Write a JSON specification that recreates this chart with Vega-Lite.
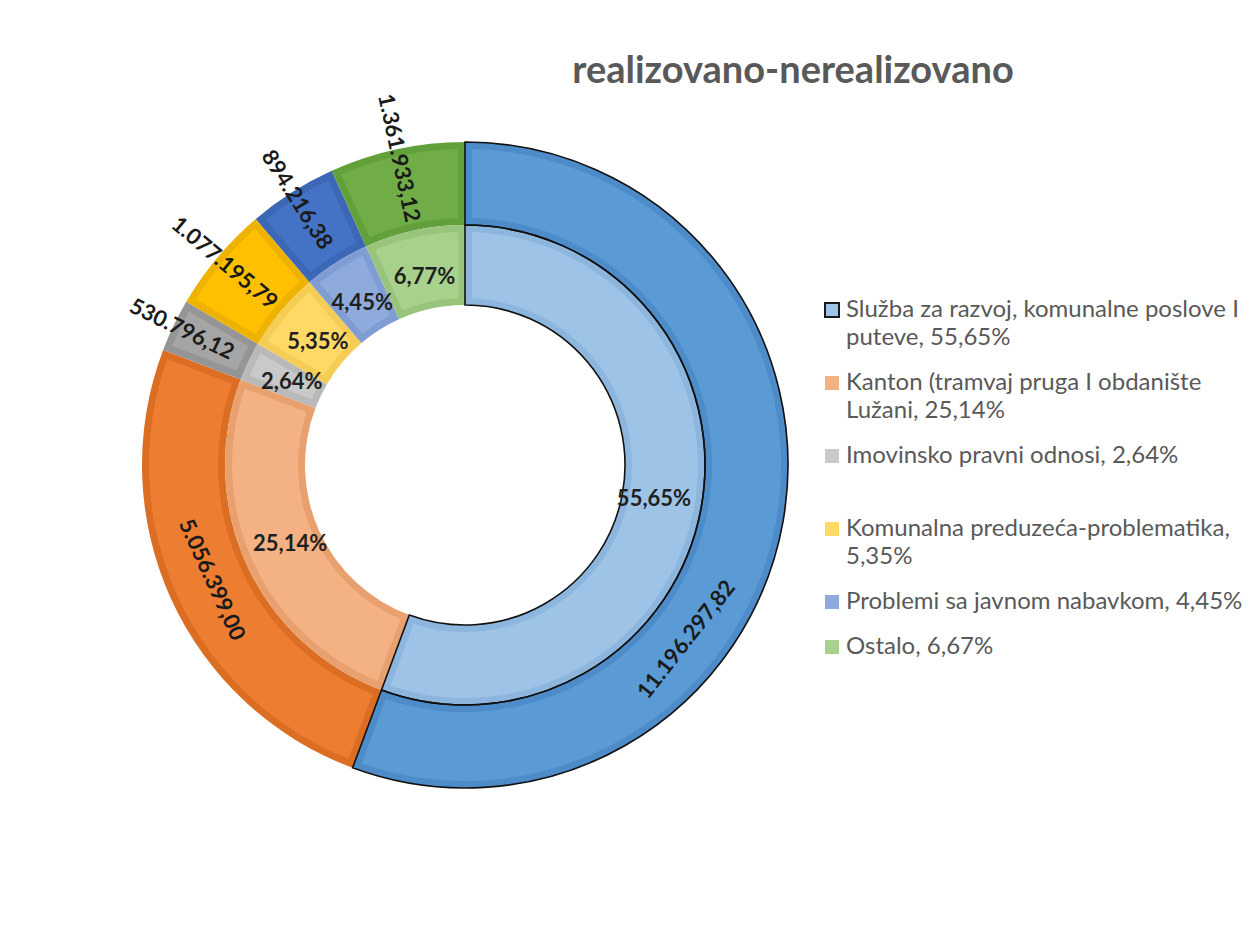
{
  "$schema": "https://vega.github.io/schema/vega-lite/v6.json",
  "autosize": {"type": "none"},
  "padding": {"left": 30, "top": 30, "right": 360, "bottom": 26},
  "width": 870,
  "height": 870,
  "background": "white",
  "config": {"view": {"stroke": null}},
  "title": {
    "text": "realizovano-nerealizovano",
    "font": "Lato",
    "fontSize": 38,
    "fontWeight": "bold",
    "color": "#595959",
    "anchor": "middle",
    "frame": "group",
    "baseline": "alphabetic",
    "offset": 0,
    "dx": 328,
    "dy": 91
  },
  "data": {
    "values": [
      {"rank": 1, "cat": "Služba", "legend": "Služba za razvoj, komunalne poslove I|puteve, 55,65%", "value": 11196297.82, "valueLabel": "11.196.297,82", "pctLabel": "55,65%"},
      {"rank": 2, "cat": "Kanton", "legend": "Kanton (tramvaj pruga I obdanište|Lužani, 25,14%", "value": 5056399.00, "valueLabel": "5.056.399,00", "pctLabel": "25,14%"},
      {"rank": 3, "cat": "Imovinsko", "legend": "Imovinsko pravni odnosi, 2,64%|", "value": 530796.12, "valueLabel": "530.796,12", "pctLabel": "2,64%"},
      {"rank": 4, "cat": "Komunalna", "legend": "Komunalna preduzeća-problematika,|5,35%", "value": 1077195.79, "valueLabel": "1.077.195,79", "pctLabel": "5,35%"},
      {"rank": 5, "cat": "Problemi", "legend": "Problemi sa javnom nabavkom, 4,45%", "value": 894216.38, "valueLabel": "894.216,38", "pctLabel": "4,45%"},
      {"rank": 6, "cat": "Ostalo", "legend": "Ostalo, 6,67%", "value": 1361933.12, "valueLabel": "1.361.933,12", "pctLabel": "6,77%"}
    ]
  },
  "transform": [
    {"joinaggregate": [{"op": "sum", "field": "value", "as": "total"}]},
    {"window": [{"op": "sum", "field": "value", "as": "cum"}], "sort": [{"field": "rank", "order": "ascending"}], "frame": [null, 0]},
    {"calculate": "(datum.cum - datum.value / 2) / datum.total * 360", "as": "mid"},
    {"calculate": "datum.value < 3000000 ? datum.mid - 270 : (datum.cat == 'Služba' ? datum.mid + 28 - 180 : ((datum.mid > 90 && datum.mid < 270) ? datum.mid - 180 : datum.mid))", "as": "ang"}
  ],
  "encoding": {
    "theta": {"field": "value", "type": "quantitative", "stack": true},
    "order": {"field": "rank", "type": "quantitative"}
  },
  "layer": [
    {
      "mark": {"type": "arc", "radius": 323, "radius2": 240},
      "encoding": {
        "color": {"field": "cat", "type": "nominal", "legend": null,
          "scale": {"domain": ["Služba", "Kanton", "Imovinsko", "Komunalna", "Problemi", "Ostalo"],
                    "range": ["#4d8bc9", "#dc6e24", "#959595", "#eeb200", "#3c66b6", "#62a03c"]}}
      }
    },
    {
      "mark": {"type": "arc", "radius": 316, "radius2": 247, "padAngle": 0.035},
      "encoding": {
        "color": {"field": "cat", "type": "nominal", "legend": null,
          "scale": {"domain": ["Služba", "Kanton", "Imovinsko", "Komunalna", "Problemi", "Ostalo"],
                    "range": ["#5b9bd5", "#ed7d31", "#a5a5a5", "#ffc000", "#4472c4", "#70ad47"]}}
      }
    },
    {
      "mark": {"type": "arc", "radius": 240, "radius2": 160},
      "encoding": {
        "color": {"field": "cat", "type": "nominal", "legend": null,
          "scale": {"domain": ["Služba", "Kanton", "Imovinsko", "Komunalna", "Problemi", "Ostalo"],
                    "range": ["#8db6de", "#e9a06f", "#b9b9b9", "#f5cd55", "#7f9cd3", "#98c47b"]}}
      }
    },
    {
      "mark": {"type": "arc", "radius": 233, "radius2": 167, "padAngle": 0.048},
      "encoding": {
        "color": {"field": "legend", "type": "nominal",
          "scale": {"domain": ["Služba za razvoj, komunalne poslove I|puteve, 55,65%", "Kanton (tramvaj pruga I obdanište|Lužani, 25,14%", "Imovinsko pravni odnosi, 2,64%|", "Komunalna preduzeća-problematika,|5,35%", "Problemi sa javnom nabavkom, 4,45%", "Ostalo, 6,67%"],
                    "range": ["#9dc3e6", "#f4b183", "#c9c9c9", "#ffd966", "#8faadc", "#a9d18e"]},
          "legend": {
            "title": null,
            "orient": "none",
            "legendX": 790,
            "legendY": 268,
            "padding": 0,
            "symbolType": "square",
            "symbolSize": 196,
            "symbolStrokeWidth": 2,
            "labelFont": "Lato",
            "labelFontSize": 24,
            "labelColor": "#595959",
            "labelLimit": 600,
            "labelOffset": 2,
            "labelBaseline": "middle",
            "rowPadding": 21,
            "labelExpr": "split(datum.label, '|')",
            "encode": {
              "labels": {"update": {"lineHeight": {"value": 28}}},
              "symbols": {"update": {"stroke": {"signal": "indexof(datum.value, 'Služba') >= 0 ? '#1a1a1a' : 'transparent'"}}}
            }
          }
        }
      }
    },
    {
      "mark": {"type": "arc", "radius": 323, "radius2": 240, "fillOpacity": 0, "stroke": "#111111", "strokeWidth": 1.6},
      "encoding": {
        "strokeOpacity": {"condition": {"test": "datum.cat == 'Služba'", "value": 1}, "value": 0}
      }
    },
    {
      "mark": {"type": "arc", "radius": 240, "radius2": 160, "fillOpacity": 0, "stroke": "#111111", "strokeWidth": 1.6},
      "encoding": {
        "strokeOpacity": {"condition": {"test": "datum.cat == 'Služba'", "value": 1}, "value": 0}
      }
    },
    {
      "mark": {"type": "text", "radius": 192, "font": "Lato", "fontSize": 22, "fontWeight": "bold", "color": "#1f1f1f"},
      "encoding": {
        "text": {"field": "pctLabel", "type": "nominal"}
      }
    },
    {
      "mark": {"type": "text", "radius": 314, "font": "Lato", "fontSize": 22, "fontWeight": "bold", "color": "#1a1a1a"},
      "encoding": {
        "text": {"condition": {"test": "datum.value < 3000000", "field": "valueLabel"}, "value": ""},
        "angle": {"field": "ang", "type": "quantitative", "scale": null}
      }
    },
    {
      "mark": {"type": "text", "radius": 278, "font": "Lato", "fontSize": 22, "fontWeight": "bold", "color": "#1a1a1a"},
      "encoding": {
        "text": {"condition": {"test": "datum.cat == 'Kanton'", "field": "valueLabel"}, "value": ""},
        "angle": {"field": "ang", "type": "quantitative", "scale": null}
      }
    },
    {
      "mark": {"type": "text", "radius": 282, "thetaOffset": 0.49, "font": "Lato", "fontSize": 22, "fontWeight": "bold", "color": "#1a1a1a"},
      "encoding": {
        "text": {"condition": {"test": "datum.cat == 'Služba'", "field": "valueLabel"}, "value": ""},
        "angle": {"field": "ang", "type": "quantitative", "scale": null}
      }
    }
  ],
  "resolve": {"scale": {"color": "independent"}}
}
